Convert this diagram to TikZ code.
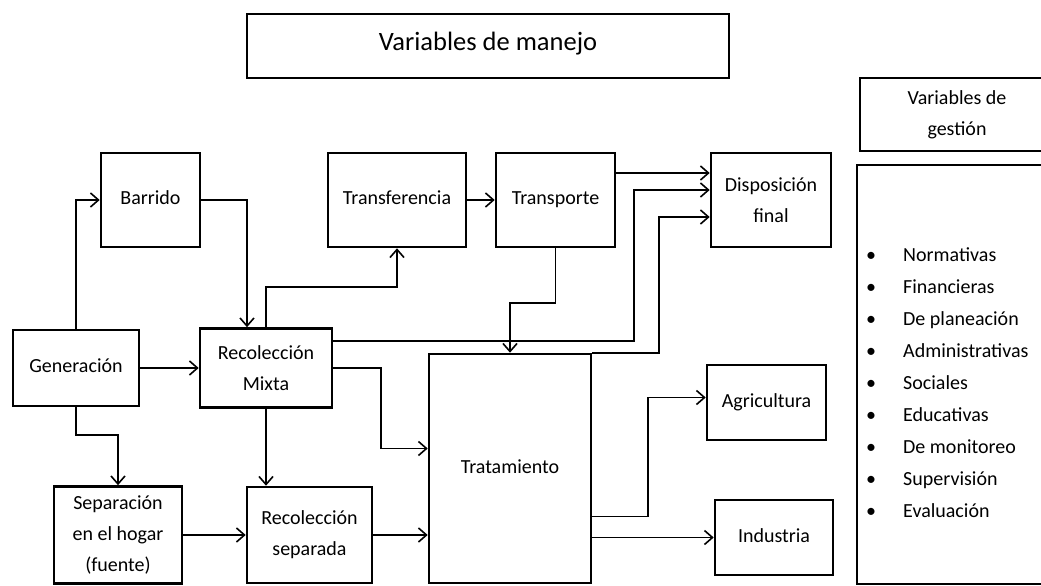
\documentclass[tikz,border=0pt]{standalone}
\usepackage{fontspec}
\setmainfont{Carlito}
\usetikzlibrary{positioning, arrows.meta}

\tikzset{
  caja/.style={draw, line width=2.6pt, align=center, inner sep=2pt, font=\fontsize{20}{31}\selectfont},
  linea/.style={text height=14pt, text depth=5pt},
  flecha/.style={-{Straight Barb[length=8pt,width=14pt,line width=1.6pt]}, line width=1.7pt},
}

\begin{document}
\begin{tikzpicture}[x=1pt, y=-1pt]
\useasboundingbox (0,0) rectangle (1041,586);
\clip (0,0) rectangle (1041,586);

\node[caja, linea, minimum width=482, minimum height=64, font=\fontsize{26.5}{30}\selectfont](titulo) at (488,46) {Variables de manejo};

\node[caja, linea, minimum width=99, minimum height=94](barrido) at (150.5,200) {Barrido};
\node[caja, linea, minimum width=138, minimum height=94](transferencia) at (397,200) {Transferencia};
\node[caja, linea, minimum width=119, minimum height=94](transporte) at (555.5,200) {Transporte};
\node[caja, minimum width=120, minimum height=94](disposicion) at (771,200) {Disposición\\final};

\node[caja, linea, minimum width=126, minimum height=76](generacion) at (76,368) {Generación};
\node[caja, minimum width=132, minimum height=79](recmixta) at (266,368) {Recolección\\Mixta};
\node[caja, linea, minimum width=162, minimum height=229](tratamiento) at (510,468.5) {Tratamiento};

\node[caja, minimum width=128, minimum height=97](separacion) at (118,535) {Separación\\en el hogar\\(fuente)};
\node[caja, minimum width=125, minimum height=96](recseparada) at (309.5,535) {Recolección\\separada};

\node[caja, linea, minimum width=119, minimum height=75](agricultura) at (766.5,402.5) {Agricultura};
\node[caja, linea, minimum width=118, minimum height=75](industria) at (774,537.5) {Industria};

\node[caja, minimum width=194, minimum height=73](gestion) at (957,114.5) {Variables de\\gestión};
\node[caja, minimum width=203, minimum height=419](lista) at (958.5,374.5) {};
\node[anchor=west, align=left, inner sep=0pt, font=\fontsize{20}{32}\selectfont](items) at (866,383) {%
\makebox[37pt][l]{•}Normativas\\
\makebox[37pt][l]{•}Financieras\\
\makebox[37pt][l]{•}De planeación\\
\makebox[37pt][l]{•}Administrativas\\
\makebox[37pt][l]{•}Sociales\\
\makebox[37pt][l]{•}Educativas\\
\makebox[37pt][l]{•}De monitoreo\\
\makebox[37pt][l]{•}Supervisión\\
\makebox[37pt][l]{•}Evaluación};

% entradas
\draw[flecha] (generacion.north) |- (barrido.west);
\draw[flecha] (barrido.east) -| ([xshift=-19pt]recmixta.north);
\draw[flecha] (generacion) -- (recmixta);
\draw[flecha] (generacion.south) -- ++(0,28) -| (separacion.north);
\draw[flecha] (separacion) -- (recseparada);
\draw[flecha] (recmixta.south) -- (recmixta.south |- recseparada.north);

% recoleccion mixta
\draw[flecha] (recmixta.north) -- ++(0,-40) -| (transferencia.south);
\draw[flecha] (transferencia) -- (transporte);
\draw[flecha] ([yshift=27pt]recmixta.east) -- ++(301,0) |- ([yshift=10pt]disposicion.west);
\draw[flecha] (recmixta.east) -- ++(48,0) |- ([yshift=20pt]tratamiento.west);
\draw[flecha] (recseparada.east) -- (recseparada.east -| tratamiento.west);

% transporte y tratamiento
\draw[flecha] ([yshift=27pt]transporte.east) -- ([yshift=27pt]transporte.east -| disposicion.west);
\draw[flecha] (transporte.south) -- ++(0,55) -| (tratamiento.north);
\draw[flecha] (tratamiento.north east) -- ++(67,0) |- ([yshift=-17pt]disposicion.west);
\draw[flecha] ([yshift=-48pt]tratamiento.east) -- ++(56,0) |- ([yshift=5pt]agricultura.west);
\draw[flecha] (industria.west -| tratamiento.east) -- (industria.west);
\end{tikzpicture}
\end{document}
